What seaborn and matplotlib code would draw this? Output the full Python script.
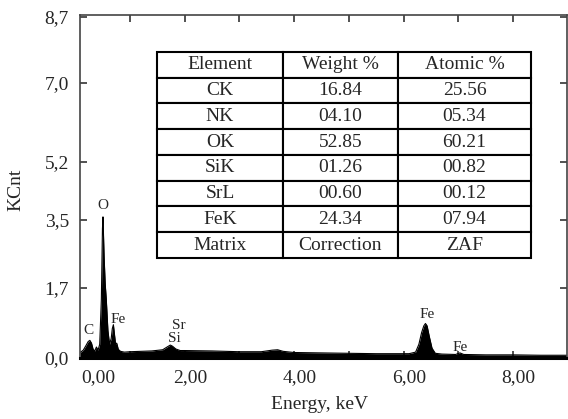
import matplotlib
matplotlib.use("Agg")
import matplotlib.pyplot as plt
import numpy as np
import pandas as pd
import seaborn as sns

# EDS spectrum outline (keV, KCnt)
energy = [0.09, 0.15, 0.20, 0.24, 0.27, 0.30, 0.33, 0.36, 0.39, 0.42,
          0.45, 0.48, 0.50, 0.51, 0.53, 0.55, 0.57, 0.60, 0.63, 0.66,
          0.68, 0.70, 0.72, 0.74, 0.76, 0.79, 0.83, 0.90, 1.00, 1.20,
          1.40, 1.60, 1.68, 1.74, 1.78, 1.84, 1.92, 2.00, 2.50, 3.00,
          3.40, 3.60, 3.70, 3.80, 4.00, 4.50, 5.00, 5.50, 5.90, 6.10,
          6.22, 6.28, 6.33, 6.37, 6.40, 6.43, 6.47, 6.52, 6.58, 6.70,
          6.95, 7.03, 7.10, 7.50, 8.00, 8.50, 8.98]
counts = [0.14, 0.20, 0.32, 0.42, 0.45, 0.38, 0.22, 0.18, 0.28, 0.20,
          0.35, 1.50, 3.30, 3.60, 2.60, 1.90, 1.50, 0.70, 0.35, 0.50,
          0.75, 0.85, 0.60, 0.35, 0.38, 0.22, 0.17, 0.15, 0.16, 0.17,
          0.18, 0.21, 0.28, 0.33, 0.30, 0.23, 0.19, 0.19, 0.18, 0.16,
          0.16, 0.20, 0.21, 0.17, 0.14, 0.13, 0.12, 0.11, 0.11, 0.11,
          0.15, 0.35, 0.65, 0.82, 0.88, 0.82, 0.55, 0.25, 0.12, 0.10,
          0.09, 0.13, 0.09, 0.08, 0.08, 0.07, 0.07]

# peak annotations
peak_names = ["O", "C", "Fe", "Sr", "Si", "Fe", "Fe"]
peak_x = [0.51, 0.25, 0.78, 1.90, 1.82, 6.43, 7.03]
peak_y = [3.90, 0.71, 0.97, 0.82, 0.51, 1.10, 0.28]

# axis ticks
y_ticks = [0.0, 1.79, 3.52, 5.0, 7.02, 8.7]
y_tick_labels = ["0,0", "1,7", "3,5", "5,2", "7,0", "8,7"]
x_tick_pos = [0.433, 2.097, 4.1, 6.1, 8.1]
x_tick_labels = ["0,00", "2,00", "4,00", "6,00", "8,00"]

# composition table
table_header = ["Element", "Weight %", "Atomic %"]
elements = ["CK", "NK", "OK", "SiK", "SrL", "FeK", "Matrix"]
weight_pct = ["16.84", "04.10", "52.85", "01.26", "00.60", "24.34", "Correction"]
atomic_pct = ["25.56", "05.34", "60.21", "00.82", "00.12", "07.94", "ZAF"]

sns.set_theme(style="white")
plt.rcParams["font.family"] = ["Liberation Serif", "DejaVu Serif"]

df = pd.DataFrame({"Energy": energy, "KCnt": counts})

fig = plt.figure(figsize=(5.68, 4.19), dpi=100)
ax = fig.add_axes([80 / 568, 61 / 419, 486.7 / 568, 343 / 419])

ax.fill_between(df["Energy"], 0, df["KCnt"], color="black", linewidth=0)
sns.lineplot(data=df, x="Energy", y="KCnt", color="black", linewidth=0.8, ax=ax)

for name, px, py in zip(peak_names, peak_x, peak_y):
    ax.text(px, py, name, ha="center", va="center", fontsize=11)

ax.set_xlim(0.09, 8.98)
ax.set_ylim(0, 8.75)

ax.set_xticks(x_tick_pos, x_tick_labels)
ax.set_xticks(range(1, 9), minor=True)
ax.set_yticks(y_ticks, y_tick_labels)
ax.tick_params(axis="x", which="major", length=0, pad=8, labelsize=14)
ax.tick_params(axis="x", which="minor", direction="in", length=5, width=1.2,
               top=True, bottom=True, color="#333333")
ax.tick_params(axis="y", which="major", direction="in", length=5, width=1.2,
               left=True, right=True, pad=8, labelsize=14, color="#333333")

for side in ["left", "top", "right"]:
    ax.spines[side].set_color("#444444")
    ax.spines[side].set_linewidth(1.2)
ax.spines["bottom"].set_color("black")
ax.spines["bottom"].set_linewidth(2.2)

ax.set_xlabel("Energy, keV", fontsize=14)
ax.set_ylabel("KCnt", fontsize=14)
ax.xaxis.set_label_coords(0.493, -0.112)
ax.yaxis.set_label_coords(-0.115, 0.49)

cell_text = [[e, w, a] for e, w, a in zip(elements, weight_pct, atomic_pct)]
tbl = ax.table(cellText=cell_text, colLabels=table_header, cellLoc="center",
               colWidths=[126, 115, 133],
               bbox=[(157 - 80) / 486.7, (358 - 258) / 343,
                     374 / 486.7, 206 / 343])
tbl.auto_set_font_size(False)
tbl.set_fontsize(14)
for cell in tbl.get_celld().values():
    cell.set_edgecolor("black")
    cell.set_linewidth(1.5)
    cell.set_facecolor("white")

fig.savefig("out.png", dpi=100)
